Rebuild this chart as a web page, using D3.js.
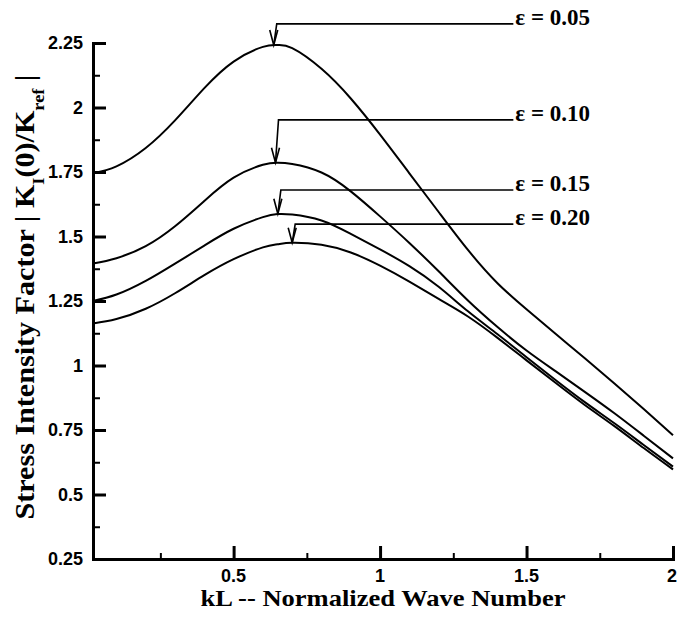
<!DOCTYPE html>
<html>
<head>
<meta charset="utf-8">
<script src="https://cdn.jsdelivr.net/npm/d3@7"></script>
<style>
  body { margin: 0; background: #fff; }
  .tick-label { font-family: "Liberation Sans", Arial, sans-serif; font-weight: bold; font-size: 18px; }
  .title { font-family: "Liberation Serif", "Times New Roman", serif; font-weight: bold; }
  .eps { font-family: "Liberation Serif", "Times New Roman", serif; font-size: 23px; font-weight: bold; }
</style>
</head>
<body>
<div id="chart"></div>
<script>
var svgWidth = 683;
var svgHeight = 621;

// kL values shared by all curves
var kL = [0.02, 0.1, 0.2, 0.3, 0.4, 0.5, 0.6, 0.65, 0.7, 0.8, 0.9, 1.0,
          1.1, 1.2, 1.3, 1.4, 1.5, 1.6, 1.7, 1.8, 1.9, 2.0];

var eps05 = [1.745, 1.772, 1.843, 1.95, 2.075, 2.178, 2.235, 2.242, 2.23, 2.15, 2.035, 1.895,
             1.745, 1.595, 1.448, 1.32, 1.218, 1.122, 1.027, 0.93, 0.831, 0.73];
var eps10 = [1.395, 1.416, 1.463, 1.54, 1.638, 1.728, 1.778, 1.786, 1.781, 1.748, 1.675, 1.578,
             1.475, 1.365, 1.252, 1.15, 1.058, 0.977, 0.897, 0.815, 0.728, 0.64];
var eps15 = [1.25, 1.275, 1.328, 1.395, 1.465, 1.53, 1.575, 1.587, 1.585, 1.562, 1.51, 1.45,
             1.385, 1.305, 1.21, 1.122, 1.032, 0.943, 0.857, 0.776, 0.692, 0.608];
var eps20 = [1.163, 1.18, 1.22, 1.28, 1.35, 1.412, 1.458, 1.47, 1.476, 1.468, 1.438, 1.387,
             1.325, 1.258, 1.19, 1.108, 1.02, 0.932, 0.846, 0.765, 0.68, 0.597];

var seriesNames = ["\u03b5 = 0.05", "\u03b5 = 0.10", "\u03b5 = 0.15", "\u03b5 = 0.20"];
var seriesValues = [eps05, eps10, eps15, eps20];

// arrow tips (peak positions) and label leader heights, in data units
var arrowX = [0.637, 0.643, 0.651, 0.70];
var arrowY = [2.242, 1.786, 1.588, 1.476];
var leaderY = [2.324, 1.952, 1.68, 1.548];
var leaderEndX = 1.455;

var yTicks = [0.25, 0.5, 0.75, 1, 1.25, 1.5, 1.75, 2, 2.25];
var yMinor = [0.375, 0.625, 0.875, 1.125, 1.375, 1.625, 1.875, 2.125];
var xTicks = [0.5, 1, 1.5, 2];
var xMinor = [0.25, 0.75, 1.25, 1.75];

var svg = d3.select("#chart")
  .append("svg")
  .attr("width", svgWidth)
  .attr("height", svgHeight);

var x = d3.scaleLinear().domain([0.02, 2]).range([93, 673]);
var y = d3.scaleLinear().domain([0.25, 2.25]).range([559, 43]);

// curves
var line = d3.line()
  .x(d => x(d[0]))
  .y(d => y(d[1]))
  .curve(d3.curveNatural);

seriesValues.forEach(function(vals) {
  svg.append("path")
    .datum(kL.map((k, i) => [k, vals[i]]))
    .attr("fill", "none")
    .attr("stroke", "#000")
    .attr("stroke-width", 2)
    .attr("d", line);
});

// y axis
var yAxis = svg.append("g")
  .attr("transform", `translate(${x(0.02)},0)`)
  .call(d3.axisRight(y).tickValues(yTicks).tickSize(13).tickFormat(""));
yAxis.selectAll(".tick line").attr("stroke-width", 3);
yAxis.select(".domain").attr("stroke-width", 3);

svg.append("g")
  .attr("transform", `translate(${x(0.02)},0)`)
  .call(d3.axisRight(y).tickValues(yMinor).tickSize(7).tickFormat(""))
  .call(g => g.select(".domain").remove())
  .selectAll(".tick line").attr("stroke-width", 2);

svg.selectAll(".ylab")
  .data(yTicks)
  .enter()
  .append("text")
  .attr("class", "tick-label")
  .attr("x", 83)
  .attr("y", d => y(d))
  .attr("dy", "0.36em")
  .attr("text-anchor", "end")
  .text(d => d);

// x axis
var xAxis = svg.append("g")
  .attr("transform", `translate(0,${y(0.25)})`)
  .call(d3.axisTop(x).tickValues(xTicks).tickSize(13).tickFormat(""));
xAxis.selectAll(".tick line").attr("stroke-width", 3);
xAxis.select(".domain").attr("stroke-width", 3);

svg.append("g")
  .attr("transform", `translate(0,${y(0.25)})`)
  .call(d3.axisTop(x).tickValues(xMinor).tickSize(6).tickFormat(""))
  .call(g => g.select(".domain").remove())
  .selectAll(".tick line").attr("stroke-width", 2);

svg.selectAll(".xlab")
  .data(xTicks)
  .enter()
  .append("text")
  .attr("class", "tick-label")
  .attr("x", d => x(d))
  .attr("y", 582)
  .attr("text-anchor", d => d === 2 ? "end" : "middle")
  .attr("dx", d => d === 2 ? 4 : 0)
  .text(d => d);

// axis titles
svg.append("text")
  .attr("class", "title")
  .attr("font-size", "23px")
  .attr("x", 383)
  .attr("y", 606)
  .attr("text-anchor", "middle")
  .attr("textLength", 365)
  .attr("lengthAdjust", "spacingAndGlyphs")
  .text("kL -- Normalized Wave Number");

var yTitle = svg.append("text")
  .attr("class", "title")
  .attr("font-size", "28px")
  .attr("transform", "translate(34,297) rotate(-90)")
  .attr("text-anchor", "middle")
  .attr("textLength", 445)
  .attr("lengthAdjust", "spacingAndGlyphs");
yTitle.append("tspan").text("Stress Intensity Factor | K");
yTitle.append("tspan").attr("baseline-shift", "sub").attr("font-size", "17px").text("I");
yTitle.append("tspan").text("(0)/K");
yTitle.append("tspan").attr("baseline-shift", "sub").attr("font-size", "17px").text("ref");
yTitle.append("tspan").text(" |");

// leaders, arrows and labels
seriesNames.forEach(function(name, i) {
  var ax = x(arrowX[i]);
  var ay = y(arrowY[i]);
  var ly = y(leaderY[i]);
  var lx = x(leaderEndX);
  svg.append("path")
    .attr("fill", "none")
    .attr("stroke", "#000")
    .attr("stroke-width", 1.6)
    .attr("d", `M${lx},${ly}H${ax + 3}L${ax},${ay}`);
  svg.append("path")
    .attr("fill", "none")
    .attr("stroke", "#000")
    .attr("stroke-width", 1.6)
    .attr("d", `M${ax - 4},${ay - 15}L${ax},${ay}L${ax + 4},${ay - 15}`);
  svg.append("text")
    .attr("class", "eps")
    .attr("x", lx + 2)
    .attr("y", ly + 1)
    .text(name);
});
</script>
</body>
</html>
